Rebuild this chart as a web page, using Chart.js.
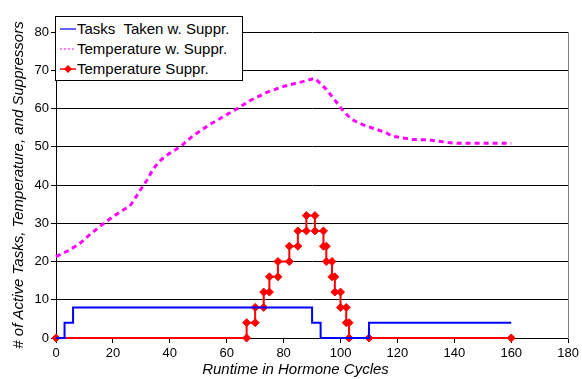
<!DOCTYPE html>
<html>
<head>
<meta charset="utf-8">
<script src="https://cdn.jsdelivr.net/npm/chart.js@4/dist/chart.umd.min.js"></script>
<style>
  html, body { margin: 0; padding: 0; background: #fff; }
  #wrap { position: relative; width: 582px; height: 379px; overflow: hidden; }
  #legend { position: absolute; left: 55px; top: 16px; width: 186px; height: 63px;
            border: 1px solid #000; background: #fff; font: 15px Arial, "Liberation Sans", sans-serif; color: #000; }
  .row { position: absolute; left: 0; height: 20px; line-height: 20px; white-space: pre; }
  .row svg { position: absolute; left: 4px; top: 2px; }
  .row span { position: absolute; left: 21px; top: 0; }
  #xtitle { position: absolute; top: 360px; left: 295.5px; transform: translateX(-50%);
            font: italic 15px Arial, "Liberation Sans", sans-serif; line-height: 18px; white-space: nowrap; color: #000; }
</style>
</head>
<body>
<div id="wrap">
  <canvas id="c" width="582" height="379"></canvas>
  <div id="legend"></div>
  <div id="xtitle"></div>
</div>
<script>
// ---- data ----
const xTitle = "Runtime in Hormone Cycles";
const yTitle = "# of Active Tasks, Temperature, and Suppressors";
const seriesNames = ["Tasks  Taken w. Suppr.", "Temperature w. Suppr.", "Temperature Suppr."];

// Tasks Taken w. Suppr. (step series)
const taskX = [0, 3, 3, 6, 6, 90, 90, 93, 93, 110, 110, 160];
const taskY = [0, 0, 4, 4, 8, 8, 4, 4, 0, 0, 4, 4];

// Temperature w. Suppr.
const tempX = [0, 4, 8, 12, 16, 20, 23, 26, 28, 30, 32, 34, 36, 38, 40, 44, 48, 54, 60, 64, 68, 74, 80, 86, 91, 95, 98, 101, 104, 108, 112, 116, 118, 125, 131, 138, 141, 150, 160];
const tempY = [21.3, 22.7, 24.5, 27.1, 29.5, 31.7, 33.2, 34.5, 36.8, 39.1, 41.3, 44.0, 45.9, 47.3, 48.3, 50.2, 52.8, 55.8, 58.4, 60.1, 62.0, 64.2, 65.8, 66.9, 67.9, 65.0, 62.2, 59.3, 57.1, 55.7, 54.7, 53.7, 52.8, 51.9, 51.8, 51.1, 50.9, 50.9, 50.9];

// Temperature Suppr. (step series with markers)
const supX = [0, 67, 67, 70, 70, 73, 73, 75, 75, 78, 78, 82, 82, 85, 85, 88, 88, 91, 91, 94, 94, 95, 95, 97, 97, 98, 98, 100, 100, 102, 102, 103, 103, 110, 160];
const supY = [0, 0, 4, 4, 8, 8, 12, 12, 16, 16, 20, 20, 24, 24, 28, 28, 32, 32, 28, 28, 24, 24, 20, 20, 16, 16, 12, 12, 8, 8, 4, 4, 0, 0, 0];

const xMin = 0, xMax = 180, xStep = 20;
const yMin = 0, yMax = 80, yStep = 10;

// ---- build ----
const pts = (xs, ys) => xs.map((x, i) => ({ x: x, y: ys[i] }));
const FONT = 'Arial, "Liberation Sans", sans-serif';

const datasets = [
  { label: seriesNames[0], data: pts(taskX, taskY), borderColor: '#0000FF', backgroundColor: '#0000FF',
    borderWidth: 2, pointRadius: 0, order: 0, clip: false, _sample: 'solid' },
  { label: seriesNames[1], data: pts(tempX, tempY), borderColor: '#FF00FF', backgroundColor: '#FF00FF',
    borderWidth: 3, borderDash: [5, 4], pointRadius: 0, order: 1, clip: false, _sample: 'dot' },
  { label: seriesNames[2], data: pts(supX, supY), borderColor: '#FF0000', backgroundColor: '#FF0000',
    borderWidth: 2, pointRadius: 4, pointStyle: 'rectRot', pointBorderWidth: 1, order: 2, clip: false, _sample: 'marker' }
];

const rightBorder = {
  id: 'rightBorder',
  beforeDatasetsDraw(chart) {
    const { ctx, chartArea } = chart;
    ctx.save();
    ctx.strokeStyle = '#808080';
    ctx.lineWidth = 1;
    ctx.beginPath();
    const x = Math.round(chartArea.right) + 0.5;
    ctx.moveTo(x, chartArea.top);
    ctx.lineTo(x, chartArea.bottom + 1);
    ctx.stroke();
    ctx.restore();
  }
};

new Chart(document.getElementById('c'), {
  type: 'line',
  data: { datasets: datasets },
  options: {
    responsive: false,
    animation: false,
    layout: { padding: { top: 32, right: 11, left: 0, bottom: 0 } },
    plugins: { legend: { display: false }, tooltip: { enabled: false } },
    elements: { line: { tension: 0 } },
    scales: {
      x: {
        type: 'linear', min: xMin, max: xMax,
        ticks: { stepSize: xStep, color: '#000', font: { family: FONT, size: 13 }, padding: 3, maxRotation: 0 },
        grid: { drawOnChartArea: false, color: '#000', tickLength: 5 },
        border: { color: '#000', width: 1 },
        afterFit: s => { s.height = 41; }
      },
      y: {
        type: 'linear', min: yMin, max: yMax,
        ticks: { stepSize: yStep, color: '#000', font: { family: FONT, size: 13 }, padding: 2 },
        grid: { color: '#000', tickLength: 5 },
        border: { color: '#000', width: 1 },
        title: { display: true, text: yTitle, color: '#000', font: { family: FONT, size: 15, style: 'italic' }, padding: { top: 10, bottom: 0 } },
        afterFit: s => { s.width = 56; }
      }
    }
  },
  plugins: [rightBorder]
});

// ---- HTML legend + x title ----
document.getElementById('xtitle').textContent = xTitle;
const legend = document.getElementById('legend');
datasets.forEach((ds, i) => {
  const row = document.createElement('div');
  row.className = 'row';
  row.style.top = (2 + i * 20) + 'px';
  let svg = '<svg width="16" height="16" viewBox="0 0 16 16">';
  if (ds._sample === 'solid') svg += '<line x1="0" y1="8" x2="16" y2="8" stroke="' + ds.borderColor + '" stroke-width="1.2"/>';
  if (ds._sample === 'dot') svg += '<line x1="0" y1="8" x2="16" y2="8" stroke="' + ds.borderColor + '" stroke-width="1.2" stroke-dasharray="2,2"/>';
  if (ds._sample === 'marker') svg += '<line x1="0" y1="8" x2="16" y2="8" stroke="' + ds.borderColor + '" stroke-width="1.5"/><path d="M8 4 L12 8 L8 12 L4 8 Z" fill="' + ds.borderColor + '"/>';
  svg += '</svg>';
  row.innerHTML = svg + '<span></span>';
  row.querySelector('span').textContent = ds.label;
  legend.appendChild(row);
});
</script>
</body>
</html>
